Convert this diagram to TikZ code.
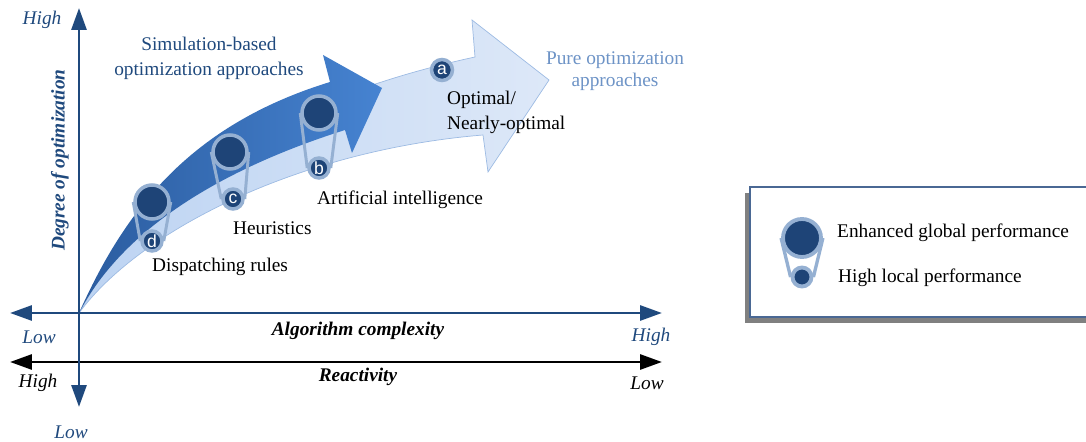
\documentclass[tikz,border=0pt]{standalone}
\usepackage{fontspec}
\setmainfont{Liberation Serif}
\newfontfamily\wheelfont{Liberation Sans}
\usetikzlibrary{arrows.meta}

\definecolor{axisblue}{HTML}{1F497D}
\definecolor{paleblue}{HTML}{6D93C6}
\definecolor{wheelfill}{HTML}{1E4477}
\definecolor{wheelring}{HTML}{95B0D2}
\definecolor{darkA}{HTML}{2B5C9F}
\definecolor{darkB}{HTML}{4683D1}
\definecolor{lightA}{HTML}{BCD3F2}
\definecolor{lightB}{HTML}{DDE8F8}
\definecolor{lightedge}{HTML}{9DBBE3}
\definecolor{legendedge}{HTML}{4A6894}

% wheel pair: name, x big, y big, x small, y small, letter
\newcommand{\pulley}[6]{
	\node[bigwheel] (#1big) at (#2,#3) {};
	\node[smallwheel] (#1small) at (#4,#5) {#6};
	\draw[belt] (#1big.west) -- (#1small.west) (#1big.east) -- (#1small.east);
}

\begin{document}
\begin{tikzpicture}[x=0.02cm,y=-0.02cm,
	every node/.style={font=\fontsize{11}{14.2}\selectfont},
	axis/.style={line width=1.7pt,{Triangle[length=12.5pt,width=8.5pt]}-{Triangle[length=12.5pt,width=8.5pt]}},
	bigwheel/.style={circle,fill=wheelfill,draw=wheelring,line width=2pt,minimum size=0.68cm,inner sep=0},
	smallwheel/.style={circle,fill=wheelfill,draw=wheelring,line width=2pt,minimum size=0.4cm,inner sep=0,
		text=white,font=\wheelfont\fontsize{10}{10}\selectfont},
	belt/.style={draw=wheelring,line width=1.7pt},
	lowhigh/.style={font=\fontsize{11}{13}\selectfont\itshape},
	axisname/.style={font=\fontsize{11}{13}\selectfont\bfseries\itshape}]
	\useasboundingbox (0,0) rectangle (1086,442);

	\coordinate (O) at (79,313);
	\coordinate (ytop) at (79,8);
	\coordinate (ybot) at (79,407);
	\coordinate (xl) at (10,313);
	\coordinate (xr) at (662,313);
	\coordinate (rl) at (10,362);
	\coordinate (rr) at (662,362);

	% the two bent arrows
	\path[left color=lightA,right color=lightB,draw=lightedge,line width=0.4pt]
		(O) .. controls (130,220) and (230,110) .. (475,57) -- (472,20) -- (549,80) -- (488,172) -- (483,135)
		.. controls (300,150) and (140,230) .. (O) -- cycle;
	\path[left color=darkA,right color=darkB]
		(O) .. controls (125,210) and (190,125) .. (330,82) -- (323,55) -- (382,88) -- (352,153) -- (345,130)
		.. controls (250,160) and (130,215) .. (O) -- cycle;

	\pulley{d}{152}{202}{152}{241}{d}
	\pulley{c}{230}{152}{233}{199}{c}
	\pulley{b}{319}{113}{319}{168}{b}
	\node[smallwheel,minimum size=0.42cm] (awheel) at (442,70) {a};

	\node[text=axisblue,align=center] (simtext) at (209,58) {Simulation-based\\optimization approaches};
	\node[text=paleblue,align=center,font=\fontsize{11}{12.5}\selectfont] (puretext) at (615,71) {Pure optimization\\approaches};
	\node[anchor=west,align=left] (opttext) at (441,112) {Optimal/\\Nearly-optimal};
	\node[anchor=west] (aitext) at (311,200) {Artificial intelligence};
	\node[anchor=west] (heutext) at (227,228) {Heuristics};
	\node[anchor=west] (disptext) at (146,267) {Dispatching rules};

	% axes
	\draw[axis,black] (rl) -- (rr);
	\draw[axis,axisblue] (xl) -- (xr);
	\draw[axis,axisblue] (ybot) -- (ytop);

	\node[lowhigh,text=axisblue] (yhigh) at (42,20) {High};
	\node[lowhigh,text=axisblue] (ylow) at (71,432) {Low};
	\node[axisname,text=axisblue,rotate=90] (ylabel) at (60,160) {Degree of optimization};
	\node[lowhigh,text=axisblue] (xlow) at (39,337) {Low};
	\node[lowhigh,text=axisblue] (xhigh) at (651,337) {High};
	\node[axisname] (xlabel) at (358,331) {Algorithm complexity};
	\node[lowhigh] (rhigh) at (38,383) {High};
	\node[lowhigh] (rlow) at (647,383) {Low};
	\node[axisname] (rlabel) at (358,377) {Reactivity};

	% legend
	\begin{scope}
		\clip (0,0) rectangle (1086,442);
		\fill[gray] (745,193) rectangle (1095,323);
		\draw[legendedge,fill=white,line width=0.6pt] (750,187) rectangle (1095,317);
	\end{scope}
	\node[bigwheel,minimum size=0.76cm,line width=2.2pt] (legbig) at (802,238) {};
	\node[smallwheel,minimum size=0.38cm,line width=2.2pt] (legsmall) at (802,277) {};
	\draw[belt,line width=1.9pt] (legbig.west) -- (legsmall.west) (legbig.east) -- (legsmall.east);
	\node[anchor=west] (legtop) at (831,233) {Enhanced global performance};
	\node[anchor=west] (legbot) at (832,278) {High local performance};
\end{tikzpicture}
\end{document}
